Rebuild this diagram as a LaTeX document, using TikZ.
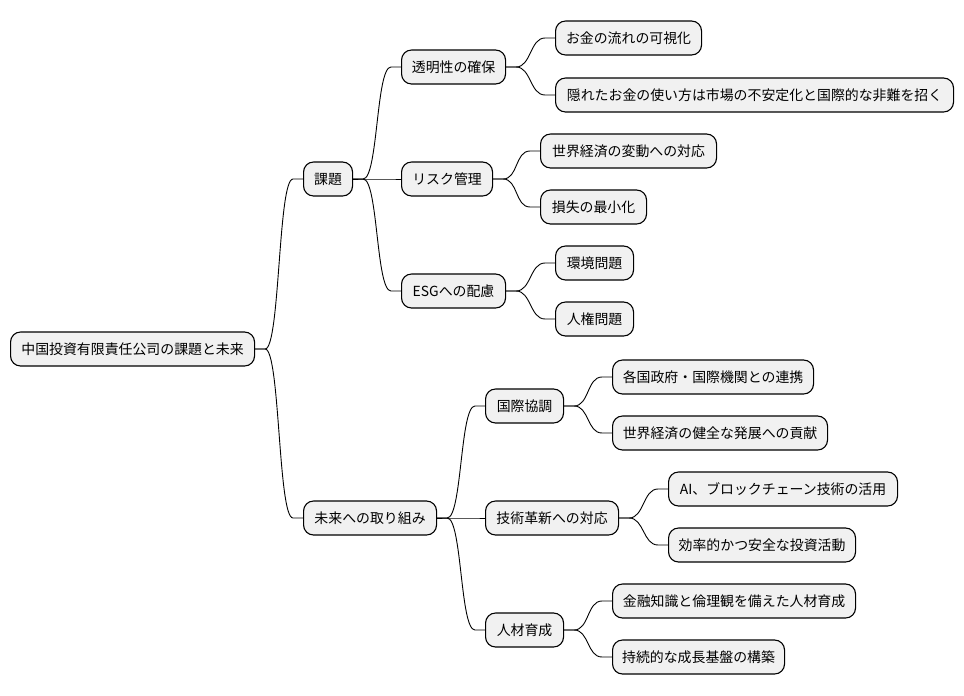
\documentclass[tikz,border=0pt]{standalone}
\usepackage{fontspec}
\setmainfont{Noto Sans CJK JP}
\definecolor{boxfill}{HTML}{F1F1F1}
\newcommand{\mlink}[2]{\draw[con] (#1.east) -- ++(10,0) .. controls +(15,0) and +(-15,0) .. ([xshift=-10pt]#2.west) -- (#2.west);}
\begin{document}
\begin{tikzpicture}[x=1pt,y=-1pt,
  box/.style={draw=black, line width=1.1pt, fill=boxfill, rounded corners=10pt, minimum height=34pt, inner sep=0pt, anchor=west, align=center, font=\fontsize{13.9}{16}\selectfont},
  con/.style={draw=black, line width=0.9pt}]
\useasboundingbox (0,0) rectangle (964,696);
\node[box, minimum width=244pt] (root) at (10,349) {中国投資有限責任公司の課題と未来};
\node[box, minimum width=49pt] (kadai) at (303,179) {課題};
\node[box, minimum width=133pt] (mirai) at (303,518) {未来への取り組み};
\node[box, minimum width=104pt] (tomei) at (401,67) {透明性の確保};
\node[box, minimum width=91pt] (risk) at (401,179) {リスク管理};
\node[box, minimum width=104pt] (esg) at (401,291) {ESGへの配慮};
\node[box, minimum width=146pt] (t1) at (555,38) {お金の流れの可視化};
\node[box, minimum width=398pt] (t2) at (555,95) {隠れたお金の使い方は市場の不安定化と国際的な非難を招く};
\node[box, minimum width=176pt] (r1) at (540,151) {世界経済の変動への対応};
\node[box, minimum width=106pt] (r2) at (540,207) {損失の最小化};
\node[box, minimum width=78pt] (e1) at (555,263) {環境問題};
\node[box, minimum width=78pt] (e2) at (555,319) {人権問題};
\node[box, minimum width=78pt] (kk) at (485,406) {国際協調};
\node[box, minimum width=133pt] (gj) at (485,518) {技術革新への対応};
\node[box, minimum width=78pt] (jz) at (485,630) {人材育成};
\node[box, minimum width=201pt] (k1) at (612,377) {各国政府・国際機関との連携};
\node[box, minimum width=215pt] (k2) at (612,433) {世界経済の健全な発展への貢献};
\node[box, minimum width=229pt] (g1) at (668,489) {AI、ブロックチェーン技術の活用};
\node[box, minimum width=187pt] (g2) at (668,545) {効率的かつ安全な投資活動};
\node[box, minimum width=243pt] (j1) at (612,601) {金融知識と倫理観を備えた人材育成};
\node[box, minimum width=172pt] (j2) at (612,657) {持続的な成長基盤の構築};
\mlink{root}{kadai}
\mlink{root}{mirai}
\mlink{kadai}{tomei}
\mlink{kadai}{risk}
\mlink{kadai}{esg}
\mlink{tomei}{t1}
\mlink{tomei}{t2}
\mlink{risk}{r1}
\mlink{risk}{r2}
\mlink{esg}{e1}
\mlink{esg}{e2}
\mlink{mirai}{kk}
\mlink{mirai}{gj}
\mlink{mirai}{jz}
\mlink{kk}{k1}
\mlink{kk}{k2}
\mlink{gj}{g1}
\mlink{gj}{g2}
\mlink{jz}{j1}
\mlink{jz}{j2}
\end{tikzpicture}
\end{document}
